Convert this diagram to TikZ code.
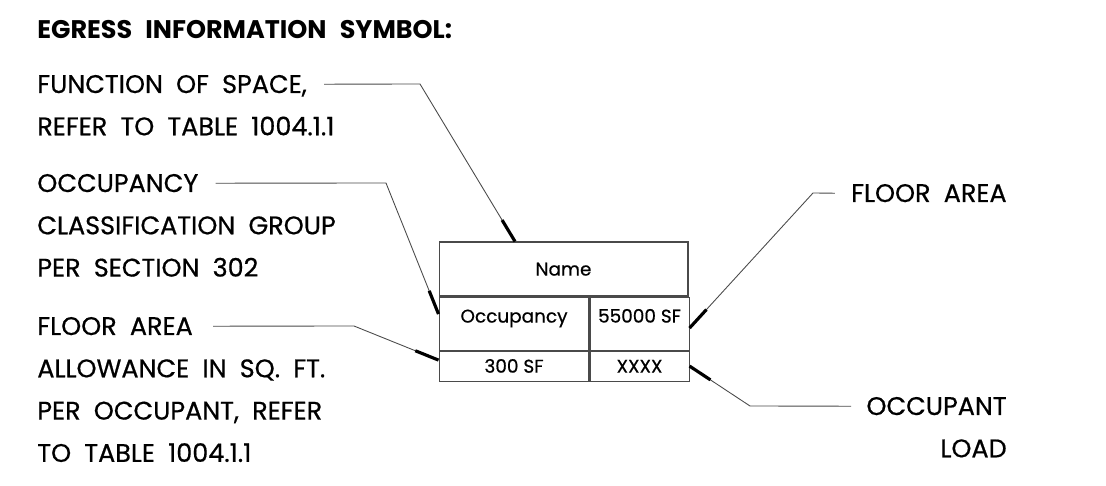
\documentclass[tikz,border=0pt]{standalone}
\usepackage{fontspec}
\setmainfont{Poppins}
\newfontfamily\notefont{Poppins}[FakeBold=0.6]
\newcommand{\widespace}{\spaceskip=7.5pt\relax}
\usetikzlibrary{positioning,calc}
\definecolor{ink}{HTML}{000000}
\definecolor{rule}{HTML}{4A4A4A}

\begin{document}
\begin{tikzpicture}[
  x=0.02cm, y=-0.02cm,
  title/.style={font=\bfseries\fontsize{14.5}{16}\selectfont\widespace, anchor=base west, inner sep=0pt},
  lbl/.style={font=\notefont\fontsize{14.5}{18}\selectfont\widespace, inner sep=0pt, text height=12pt, text depth=2pt, anchor=base west},
  rlbl/.style={lbl, anchor=base east},
  cell/.style={draw=rule, line width=0.6pt, inner sep=0pt, text height=7.5pt, text depth=0pt, font=\notefont\fontsize{10.5}{12}\selectfont},
  raised/.style={text height=7.5pt, text depth=8.6pt},
  leader/.style={draw=rule, line width=0.5pt},
  tick/.style={draw=ink, line width=1.8pt}
]
\useasboundingbox (0,0) rectangle (1106,486);

% heading
\node[title] (head) at (37,39) {EGRESS INFORMATION SYMBOL:};

% left notes
\node[lbl] (fnA) at (37,93) {FUNCTION OF SPACE,};
\node[lbl, below=0.34cm of fnA.south west, anchor=north west] (fnB) {REFER TO TABLE 1004.1.1};

\node[lbl] (occA) at (37,192) {OCCUPANCY};
\node[lbl, below=0.34cm of occA.south west, anchor=north west] (occB) {CLASSIFICATION GROUP};
\node[lbl, below=0.34cm of occB.south west, anchor=north west] (occC) {PER SECTION 302};

\node[lbl] (flA) at (37,335) {FLOOR AREA};
\node[lbl, below=0.34cm of flA.south west, anchor=north west] (flB) {ALLOWANCE IN SQ. FT.};
\node[lbl, below=0.34cm of flB.south west, anchor=north west] (flC) {PER OCCUPANT, REFER};
\node[lbl, below=0.34cm of flC.south west, anchor=north west] (flD) {TO TABLE 1004.1.1};

% right notes
\node[rlbl] (frA) at (1007,202) {FLOOR AREA};
\node[rlbl] (olA) at (1007,415) {OCCUPANT};
\node[lbl, below=0.34cm of olA.south east, anchor=north east] (olB) {LOAD};

% symbol
\node[cell, minimum width=4.98cm, minimum height=1.08cm] (name) at (563.5,269) {Name};
\node[cell, raised, minimum width=3cm, minimum height=1.06cm, below=0pt of name.south west, anchor=north west] (occ) {Occupancy};
\node[cell, raised, minimum width=1.98cm, minimum height=1.06cm, right=0pt of occ] (area) {55000 SF};
\node[cell, minimum width=3cm, minimum height=0.6cm, below=0pt of occ] (allow) {300 SF};
\node[cell, minimum width=1.98cm, minimum height=0.6cm, below=0pt of area] (load) {XXXX};

% leaders
\coordinate (fnbend) at (420,84);
\coordinate (fnend) at ([xshift=-0.97cm]name.north);
\draw[leader] ([xshift=0.34cm]fnA.east) -- (fnbend) -- (fnend);
\draw[tick] (fnend) -- ($(fnend)!0.5cm!(fnbend)$);

\coordinate (occbend) at (386,183);
\coordinate (occend) at ([yshift=0.19cm]occ.west);
\draw[leader] ([xshift=0.34cm]occA.east) -- (occbend) -- (occend);
\draw[tick] (occend) -- ($(occend)!0.5cm!(occbend)$);

\coordinate (flbend) at (354,326);
\coordinate (flend) at ([yshift=0.12cm]allow.west);
\draw[leader] ([xshift=0.4cm]flA.east) -- (flbend) -- (flend);
\draw[tick] (flend) -- ($(flend)!0.5cm!(flbend)$);

\coordinate (frbend) at (813,193);
\coordinate (frend) at ([yshift=-0.09cm]area.east);
\draw[leader] ([xshift=-0.32cm]frA.west) -- (frbend) -- (frend);
\draw[tick] (frend) -- ($(frend)!0.5cm!(frbend)$);

\coordinate (olbend) at (750,406);
\draw[leader] ([xshift=-0.3cm]olA.west) -- (olbend) -- (load.east);
\draw[tick] (load.east) -- ($(load.east)!0.5cm!(olbend)$);
\end{tikzpicture}
\end{document}
